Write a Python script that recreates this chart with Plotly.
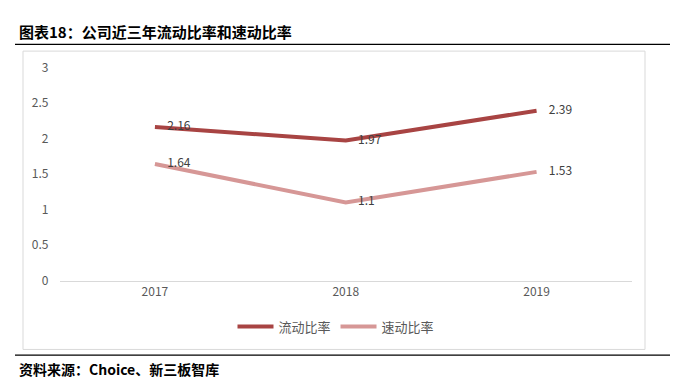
import plotly.graph_objects as go

W, H = 679, 388
years = ["2017", "2018", "2019"]
current_ratio = [2.16, 1.97, 2.39]
quick_ratio = [1.64, 1.1, 1.53]
series_names = ["流动比率", "速动比率"]
colors = ["#A84443", "#D69796"]
y_ticks = [0, 0.5, 1, 1.5, 2, 2.5, 3]

def px(x):
    return x / W

def py(y):
    return 1 - y / H

fig = go.Figure()
for name, vals, col in zip(series_names, [current_ratio, quick_ratio], colors):
    fig.add_trace(go.Scatter(
        x=years, y=vals, name=name, mode="lines+markers+text",
        line=dict(color=col, width=4),
        marker=dict(size=18, color="rgba(0,0,0,0)"),
        text=[str(v) for v in vals], textposition="middle right",
        textfont=dict(family="Noto Sans CJK SC, DejaVu Sans", size=12, color="#404040"),
        cliponaxis=False, hoverinfo="skip",
    ))

font_tick = dict(family="Noto Sans CJK SC, DejaVu Sans", size=12, color="#595959")
fig.update_layout(
    width=W, height=H,
    margin=dict(l=0, r=0, t=0, b=0),
    paper_bgcolor="white", plot_bgcolor="white",
    xaxis=dict(domain=[px(59.5), px(632)], range=[-0.5, 2.5], type="category",
               showline=True, linecolor="#D9D9D9", linewidth=1, showgrid=False,
               ticks="", tickfont=font_tick, zeroline=False, fixedrange=True),
    yaxis=dict(domain=[py(283), py(60)], range=[0, 3], tickvals=y_ticks,
               ticktext=[str(v) for v in y_ticks], showgrid=False, zeroline=False,
               showline=False, tickfont=font_tick, ticklabelstandoff=10, fixedrange=True),
    showlegend=True,
    legend=dict(orientation="h", x=px(336), xanchor="center", y=py(331), yanchor="middle",
                font=dict(family="Noto Sans CJK SC", size=13, color="#595959"),
                itemwidth=36, traceorder="normal"),
    shapes=[
        dict(type="line", xref="paper", yref="paper", x0=px(15), x1=px(670), y0=py(36), y1=py(36),
             line=dict(color="black", width=1.3)),
        dict(type="rect", xref="paper", yref="paper", x0=px(23), x1=px(645), y0=py(43), y1=py(355),
             line=dict(color="#D9D9D9", width=1)),
        dict(type="line", xref="paper", yref="paper", x0=px(15), x1=px(670), y0=py(361), y1=py(361),
             line=dict(color="black", width=1.3)),
    ],
    annotations=[
        dict(text="<b>图表18：公司近三年流动比率和速动比率</b>", xref="paper", yref="paper",
             x=px(17), y=py(23), xanchor="left", yanchor="middle", showarrow=False,
             font=dict(family="Noto Sans CJK SC", size=15, color="black")),
        dict(text="<b>资料来源：Choice、新三板智库</b>", xref="paper", yref="paper",
             x=px(17), y=py(375), xanchor="left", yanchor="middle", showarrow=False,
             font=dict(family="Noto Sans CJK SC", size=14, color="black")),
    ],
)

fig.write_html("out.html", config={"displayModeBar": False},
               post_script="document.body.style.margin='0';document.body.style.overflow='hidden';")
